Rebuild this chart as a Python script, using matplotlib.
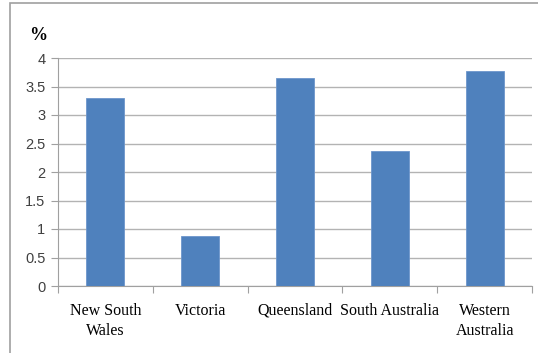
import matplotlib.pyplot as plt
from matplotlib.patches import Rectangle

states = ['New South\nWales', 'Victoria', 'Queensland', 'South Australia', 'Western\nAustralia']
growth = [3.30, 0.88, 3.65, 2.37, 3.77]
yticks = [0, 0.5, 1, 1.5, 2, 2.5, 3, 3.5, 4]

fig = plt.figure(figsize=(5.38, 3.53), dpi=100)
W, H = 538, 353

# outer chart frame (cropped screenshot)
fig.patches.append(Rectangle((10 / W, -0.1), 1.2, (H - 3) / H + 0.1,
                             transform=fig.transFigure, fill=False,
                             edgecolor='#a0a0a0', linewidth=1.2))

ax = fig.add_axes([58 / W, (H - 286) / H, (532 - 58) / W, (286 - 58) / H])
x = range(len(states))
ax.bar(x, growth, width=0.4, color='#4f81bd', edgecolor='#6d96cc', linewidth=0.6, zorder=3)

ax.set_xlim(-0.5, len(states) - 0.5)
ax.set_ylim(0, 4)
ax.set_yticks(yticks)
ax.set_yticklabels([f'{v:g}' for v in yticks], fontsize=10.5, color='#404040',
                   family='Liberation Sans')
ax.yaxis.grid(True, color='#b3b3b3', linewidth=1)
ax.set_axisbelow(True)

ax.set_xticks([i - 0.5 for i in range(len(states) + 1)], minor=False)
ax.set_xticklabels([])
ax.set_xticks(list(x), minor=True)
ax.set_xticklabels(states, minor=True, fontsize=11.5, family='Liberation Serif',
                   linespacing=1.35)
ax.tick_params(axis='x', which='minor', length=0, pad=12)
ax.tick_params(axis='x', which='major', length=5, color='#a0a0a0')
ax.tick_params(axis='y', length=5, color='#a0a0a0', pad=4)

for s in ['top', 'right']:
    ax.spines[s].set_visible(False)
for s in ['left', 'bottom']:
    ax.spines[s].set_color('#a0a0a0')

fig.text(29 / W, 1 - 36 / H, '%', fontsize=13, fontweight='bold',
         family='Liberation Serif', va='center')

fig.savefig('out.png', dpi=100)
